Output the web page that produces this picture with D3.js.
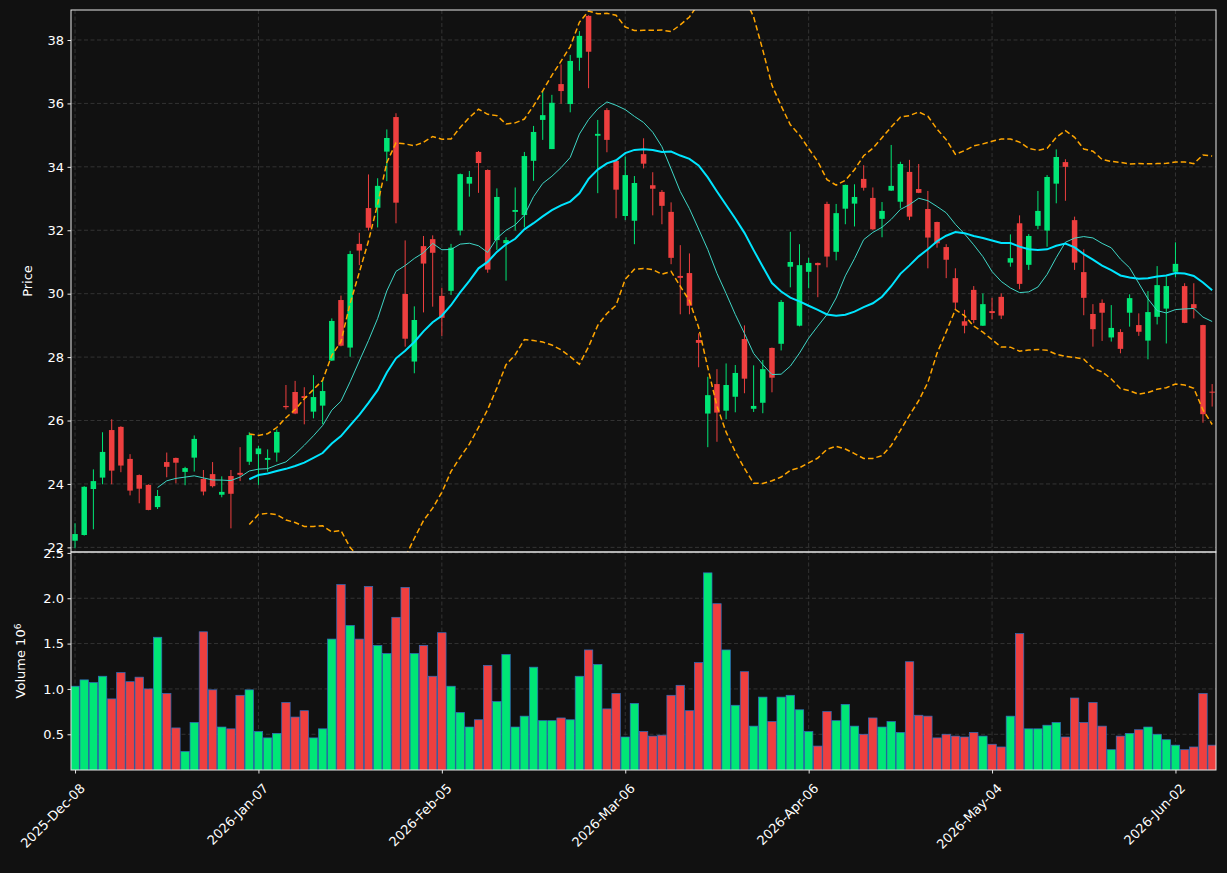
<!DOCTYPE html>
<html>
<head>
<meta charset="utf-8">
<script src="https://cdn.jsdelivr.net/npm/d3@7"></script>
<style>
  html, body { margin: 0; padding: 0; background: #111111; }
  svg { display: block; font-family: 'DejaVu Sans', sans-serif; }
</style>
</head>
<body>
<div id="chart"></div>
<script>
// OHLC, one entry per trading day
const opens = [22.21,22.39,23.84,24.20,25.70,25.80,24.79,24.28,23.97,23.27,
  24.69,24.82,24.38,24.83,24.16,24.31,23.66,24.25,24.35,24.70,
  24.94,24.76,24.99,26.46,26.90,26.77,26.28,26.47,27.89,29.80,
  28.30,31.57,32.70,32.71,34.48,35.57,29.99,27.86,31.50,31.72,
  29.93,30.09,31.99,33.47,34.47,33.90,31.69,31.59,32.58,32.48,
  34.19,35.48,34.56,36.61,35.98,37.44,38.76,34.98,35.79,34.19,
  32.45,32.30,34.40,33.42,33.21,32.58,30.56,30.65,28.54,26.22,
  27.15,26.31,26.75,28.57,26.37,26.56,28.29,28.42,30.85,28.99,
  30.69,30.97,32.83,31.32,32.68,32.84,33.62,33.02,32.36,33.25,
  32.90,33.84,33.30,32.67,32.26,31.47,30.49,29.13,30.12,28.99,
  29.45,29.90,30.98,32.22,30.91,32.14,31.99,33.47,34.15,32.32,
  30.68,29.36,29.71,28.62,28.79,29.40,29.01,28.52,29.27,29.53,
  30.69,30.24,29.67,29.01,26.91];
const highs = [22.76,23.93,24.46,25.63,26.04,25.82,24.94,24.30,23.99,23.81,
  24.99,24.83,24.54,25.53,24.44,24.69,24.24,24.44,25.16,25.63,
  25.20,25.09,25.72,27.12,27.25,27.05,27.43,27.28,29.22,29.94,
  31.35,31.92,33.76,33.64,35.18,35.69,31.68,29.60,31.82,31.84,
  30.19,31.57,33.79,33.87,34.50,33.92,33.32,31.78,33.35,34.47,
  35.29,36.39,36.27,37.23,37.53,38.28,38.78,35.48,35.85,34.20,
  34.32,33.71,34.90,33.83,33.27,32.88,31.53,31.27,28.75,27.38,
  27.62,27.80,27.75,29.00,27.74,27.91,28.30,29.80,31.95,31.56,
  31.13,30.98,32.90,32.83,33.44,33.45,34.05,33.35,32.89,34.69,
  34.16,34.22,34.09,33.24,32.27,31.56,30.80,29.49,30.24,30.01,
  29.87,30.01,31.87,32.47,31.88,33.24,33.74,34.55,34.24,32.43,
  31.40,29.67,29.82,29.64,28.88,29.98,29.38,30.08,30.87,30.54,
  31.62,30.33,30.33,29.02,27.15];
const lows = [21.97,22.37,22.57,23.99,23.99,24.37,23.64,23.39,23.17,23.21,
  24.21,24.02,23.96,24.39,23.64,23.89,23.58,22.60,24.09,24.60,
  23.97,24.39,24.70,26.35,26.20,25.88,26.07,25.89,27.88,28.34,
  28.01,30.90,31.99,32.09,33.55,32.22,28.33,27.49,29.41,29.59,
  28.67,29.96,31.84,33.06,33.18,30.66,31.38,30.41,31.99,32.09,
  33.56,34.85,34.56,35.99,35.72,37.03,36.48,33.17,34.46,32.38,
  32.32,31.56,33.95,32.47,32.19,30.93,29.35,29.35,27.68,25.16,
  25.33,26.04,26.26,26.86,26.27,26.23,26.89,28.21,30.20,28.97,
  30.17,29.89,30.83,31.05,32.19,32.12,33.25,32.01,31.78,33.24,
  32.69,32.32,33.17,30.80,31.45,30.49,29.49,28.75,29.07,28.98,
  29.19,29.20,30.85,30.14,30.75,32.03,31.48,32.85,32.93,30.75,
  29.32,28.33,28.51,28.49,28.12,28.96,28.67,27.93,29.03,28.43,
  30.52,29.07,29.22,25.93,26.44];
const closes = [22.42,23.91,24.09,25.01,24.42,24.58,23.79,23.85,23.18,23.62,
  24.54,24.67,24.50,25.42,23.76,23.93,23.75,23.69,24.29,25.54,
  25.12,24.82,25.64,26.42,26.22,26.71,26.74,26.93,29.14,28.36,
  31.25,31.36,32.08,33.40,34.91,32.87,28.58,29.17,30.95,31.29,
  29.24,31.45,33.77,33.68,34.12,30.76,33.05,31.69,32.64,34.34,
  35.10,35.63,36.02,36.39,37.34,38.13,37.63,35.04,34.85,33.28,
  33.74,33.49,34.10,33.31,32.77,31.13,30.50,29.62,28.45,26.80,
  26.25,27.12,27.50,27.32,26.46,27.62,27.35,29.74,31.00,30.90,
  30.97,30.90,31.17,32.54,33.43,33.05,33.34,32.03,32.61,33.40,
  34.09,32.43,33.18,31.77,31.59,31.07,29.72,28.99,29.17,29.67,
  29.39,29.31,31.12,30.31,31.82,32.61,33.68,34.31,34.00,30.98,
  29.87,28.88,29.40,28.92,28.26,29.86,28.80,29.42,30.27,30.24,
  30.94,29.08,29.54,26.20,26.88];
// volume in millions of shares
const volumes = [1.03,1.10,1.07,1.14,0.89,1.18,1.08,1.13,1.00,1.57,
  0.95,0.57,0.31,0.63,1.63,0.99,0.58,0.56,0.93,0.99,
  0.53,0.46,0.51,0.85,0.69,0.76,0.46,0.56,1.55,2.15,
  1.70,1.55,2.13,1.48,1.39,1.79,2.12,1.39,1.48,1.14,
  1.62,1.03,0.74,0.58,0.66,1.26,0.86,1.38,0.58,0.70,
  1.24,0.65,0.65,0.68,0.66,1.14,1.43,1.27,0.78,0.95,
  0.47,0.84,0.53,0.48,0.49,0.93,1.04,0.76,1.29,2.28,
  1.94,1.43,0.82,1.19,0.59,0.91,0.64,0.91,0.93,0.77,
  0.53,0.37,0.75,0.65,0.83,0.59,0.50,0.68,0.58,0.64,
  0.52,1.30,0.71,0.70,0.46,0.50,0.48,0.47,0.52,0.48,
  0.39,0.36,0.70,1.61,0.56,0.56,0.60,0.63,0.47,0.90,
  0.63,0.85,0.59,0.33,0.48,0.51,0.55,0.58,0.50,0.44,
  0.38,0.33,0.36,0.95,0.38];

const tickIdx = [0, 20, 40, 60, 80, 100, 120];
const tickLabels = ['2025-Dec-08', '2026-Jan-07', '2026-Feb-05', '2026-Mar-06',
  '2026-Apr-06', '2026-May-04', '2026-Jun-02'];
const priceTicks = [22, 24, 26, 28, 30, 32, 34, 36, 38];
const volumeTicks = [0.5, 1.0, 1.5, 2.0, 2.5];

const colors = {
    bg: '#111111',
    up: '#00e676',
    down: '#ee3f3f',
    volEdge: '#2f6fc0',
    grid: '#3c3c3c',
    frame: '#e8e8e8',
    text: '#ffffff',
    maFast: '#3fd6c6',
    maSlow: '#00e5ff',
    band: '#ffa500'
};

// simple rolling helpers for the overlays (population std, like the bands in the picture)
function rollingMean(arr, n) {
    return arr.map((_, i) => i < n - 1 ? null : d3.mean(arr.slice(i - n + 1, i + 1)));
}
function rollingStd(arr, n) {
    return arr.map((_, i) => {
        if (i < n - 1) return null;
        const w = arr.slice(i - n + 1, i + 1);
        const m = d3.mean(w);
        return Math.sqrt(d3.mean(w, v => (v - m) * (v - m)));
    });
}

const W = 1227, H = 873;
const left = 71, right = 1216;
const priceTop = 10, priceBottom = 552, volTop = 552, volBottom = 770;

const x = d3.scaleLinear().domain([-0.44, opens.length - 1 + 0.42]).range([left, right]);
const yP = d3.scaleLinear().domain([21.854, 38.946]).range([priceBottom, priceTop]);
const yV = d3.scaleLinear().domain([0.106, 2.51]).range([volBottom, volTop]);
const step = x(1) - x(0);

const svg = d3.select('#chart').append('svg')
    .attr('width', W).attr('height', H)
    .style('background', colors.bg);

const defs = svg.append('defs');
defs.append('clipPath').attr('id', 'clipP').append('rect')
    .attr('x', left).attr('y', priceTop).attr('width', right - left).attr('height', priceBottom - priceTop);
defs.append('clipPath').attr('id', 'clipV').append('rect')
    .attr('x', left).attr('y', volTop).attr('width', right - left).attr('height', volBottom - volTop);

// grid
const grid = svg.append('g');
priceTicks.forEach(t => {
    grid.append('line').attr('x1', left).attr('x2', right).attr('y1', yP(t)).attr('y2', yP(t));
});
volumeTicks.forEach(t => {
    grid.append('line').attr('x1', left).attr('x2', right).attr('y1', yV(t)).attr('y2', yV(t));
});
tickIdx.forEach(i => {
    grid.append('line').attr('x1', x(i)).attr('x2', x(i)).attr('y1', priceTop).attr('y2', volBottom);
});
grid.selectAll('line')
    .attr('stroke', colors.grid).attr('stroke-width', 0.8).attr('stroke-dasharray', '4,2.5');

// candles
const data = opens.map((o, i) => ({ i, o, h: highs[i], l: lows[i], c: closes[i], v: volumes[i] }));
const candles = svg.append('g').attr('clip-path', 'url(#clipP)');
const bodyW = step * 0.6;

candles.selectAll('.wick').data(data).enter().append('line')
    .attr('x1', d => x(d.i)).attr('x2', d => x(d.i))
    .attr('y1', d => yP(d.h)).attr('y2', d => yP(d.l))
    .attr('stroke', d => d.c >= d.o ? colors.up : colors.down)
    .attr('stroke-width', 1);

candles.selectAll('.body').data(data).enter().append('rect')
    .attr('x', d => x(d.i) - bodyW / 2)
    .attr('width', bodyW)
    .attr('y', d => yP(Math.max(d.o, d.c)))
    .attr('height', d => Math.max(1, Math.abs(yP(d.o) - yP(d.c))))
    .attr('fill', d => d.c >= d.o ? colors.up : colors.down);

// overlays: 10 and 20 day averages, 20 day bands
const ma10 = rollingMean(closes, 10);
const ma20 = rollingMean(closes, 20);
const sd20 = rollingStd(closes, 20);
const upper = ma20.map((m, i) => m === null ? null : m + 2 * sd20[i]);
const lower = ma20.map((m, i) => m === null ? null : m - 2 * sd20[i]);

const line = d3.line()
    .defined(d => d !== null)
    .x((d, i) => x(i))
    .y(d => yP(d));

const overlays = svg.append('g').attr('clip-path', 'url(#clipP)').attr('fill', 'none');
overlays.append('path').attr('d', line(ma10)).attr('stroke', colors.maFast).attr('stroke-width', 1);
overlays.append('path').attr('d', line(ma20)).attr('stroke', colors.maSlow).attr('stroke-width', 2);
[upper, lower].forEach(b => {
    overlays.append('path').attr('d', line(b))
        .attr('stroke', colors.band).attr('stroke-width', 1.5).attr('stroke-dasharray', '5.5,3');
});

// volume bars
const vols = svg.append('g').attr('clip-path', 'url(#clipV)');
const barW = step * 0.92;
vols.selectAll('rect').data(data).enter().append('rect')
    .attr('x', d => x(d.i) - barW / 2)
    .attr('width', barW)
    .attr('y', d => yV(d.v))
    .attr('height', d => volBottom + 5 - yV(d.v))
    .attr('fill', d => d.c >= d.o ? colors.up : colors.down)
    .attr('stroke', colors.volEdge)
    .attr('stroke-width', 0.7);

// axes
const yAxisP = d3.axisLeft(yP).tickValues(priceTicks).tickSize(3.5).tickPadding(3.5).tickFormat(d3.format('d'));
const yAxisV = d3.axisLeft(yV).tickValues(volumeTicks).tickSize(3.5).tickPadding(3.5).tickFormat(d3.format('.1f'));
const xAxis = d3.axisBottom(x).tickValues(tickIdx).tickSize(3.5).tickFormat((d, k) => tickLabels[k]);

function styleAxis(g) {
    g.select('.domain').remove();
    g.selectAll('line').attr('stroke', colors.frame);
    g.selectAll('text').attr('fill', colors.text).style('font-size', '13px')
        .style('font-family', "'DejaVu Sans', sans-serif");
}

svg.append('g').attr('transform', `translate(${left},0)`).call(yAxisP).call(styleAxis);
svg.append('g').attr('transform', `translate(${left},0)`).call(yAxisV).call(styleAxis);

const xg = svg.append('g').attr('transform', `translate(0,${volBottom})`).call(xAxis).call(styleAxis);
// rotated labels ending just right of each tick
xg.selectAll('.tick text')
    .attr('text-anchor', 'end')
    .attr('x', 0).attr('y', 0).attr('dx', 0).attr('dy', '0.35em')
    .attr('transform', 'translate(7,16) rotate(-45)');

// frames
svg.append('rect').attr('x', left).attr('y', priceTop).attr('width', right - left).attr('height', priceBottom - priceTop)
    .attr('fill', 'none').attr('stroke', colors.frame).attr('stroke-width', 1);
svg.append('rect').attr('x', left).attr('y', volTop).attr('width', right - left).attr('height', volBottom - volTop)
    .attr('fill', 'none').attr('stroke', colors.frame).attr('stroke-width', 1);

// axis titles
svg.append('text')
    .attr('transform', `translate(32,${(priceTop + priceBottom) / 2}) rotate(-90)`)
    .attr('text-anchor', 'middle')
    .attr('fill', colors.text).style('font-size', '13px')
    .text('Price');

const vLabel = svg.append('text')
    .attr('transform', `translate(25,${(volTop + volBottom) / 2}) rotate(-90)`)
    .attr('text-anchor', 'middle')
    .attr('fill', colors.text).style('font-size', '13px');
vLabel.append('tspan').text('Volume  10');
vLabel.append('tspan').attr('dy', '-0.5em').style('font-size', '9px').text('6');
</script>
</body>
</html>
